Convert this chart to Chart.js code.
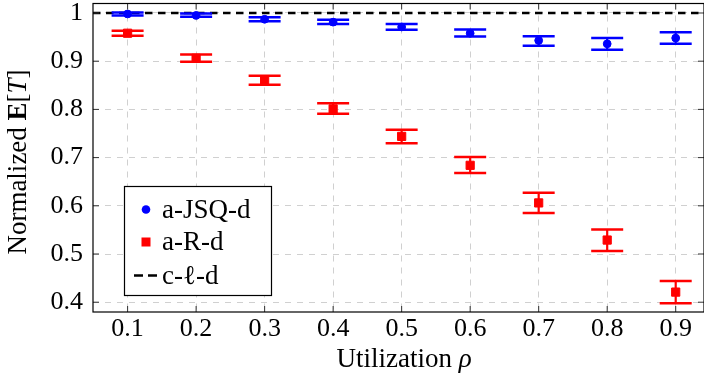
<!DOCTYPE html>
<html>
<head>
<meta charset="utf-8">
<script src="https://cdn.jsdelivr.net/npm/chart.js@4.4.1/dist/chart.umd.min.js"></script>
<style>
  html, body { margin: 0; padding: 0; background: #ffffff; }
  #wrap { width: 704px; height: 386px; }
</style>
</head>
<body>
<div id="wrap"><canvas id="c" width="704" height="386"></canvas></div>
<script>
// ---- data ----
const utilization = [0.1, 0.2, 0.3, 0.4, 0.5, 0.6, 0.7, 0.8, 0.9];

const jsqMean = [0.998, 0.995, 0.987, 0.981, 0.971, 0.958, 0.943, 0.936, 0.948];
const jsqLow  = [0.995, 0.992, 0.983, 0.977, 0.965, 0.951, 0.932, 0.924, 0.936];
const jsqHigh = [1.001, 0.999, 0.991, 0.986, 0.977, 0.966, 0.952, 0.948, 0.960];

const rdMean = [0.958, 0.906, 0.861, 0.801, 0.744, 0.684, 0.606, 0.529, 0.421];
const rdLow  = [0.953, 0.899, 0.851, 0.791, 0.730, 0.668, 0.585, 0.506, 0.398];
const rdHigh = [0.963, 0.914, 0.870, 0.813, 0.758, 0.701, 0.627, 0.551, 0.444];

const clValue = [1, 1];

const xTickValues = [0.1, 0.2, 0.3, 0.4, 0.5, 0.6, 0.7, 0.8, 0.9];
const xTickLabels = ['0.1', '0.2', '0.3', '0.4', '0.5', '0.6', '0.7', '0.8', '0.9'];
const yTickValues = [0.4, 0.5, 0.6, 0.7, 0.8, 0.9, 1.0];
const yTickLabels = ['0.4', '0.5', '0.6', '0.7', '0.8', '0.9', '1'];

const seriesNames = ['a-JSQ-d', 'a-R-d', 'c-\u2113-d'];

// ---- axis limits ----
const X_MIN = 0.0495, X_MAX = 0.9413;
const Y_MIN = 0.3797, Y_MAX = 1.0197;

const FONT = '"Liberation Serif", "Times New Roman", serif';
const FS = 26;      // tick labels
const FT = 27;      // titles and legend
const BLUE = '#0000ff', RED = '#ff0000';

function whiskers(xs, lo, hi) {
  const out = [];
  xs.forEach((x, i) => {
    out.push({ x: x, y: lo[i] });
    out.push({ x: x, y: hi[i] });
    out.push({ x: x, y: null });
  });
  return out;
}
function caps(xs, lo, hi) {
  const out = [];
  xs.forEach((x, i) => { out.push({ x: x, y: lo[i] }); out.push({ x: x, y: hi[i] }); });
  return out;
}
function pts(xs, ys) { return xs.map((x, i) => ({ x: x, y: ys[i] })); }

const frameAndText = {
  id: 'frameAndText',
  afterDraw(chart) {
    const ctx = chart.ctx;
    const a = chart.chartArea;
    const xs = chart.scales.x, ys = chart.scales.y;
    ctx.save();
    // inner tick marks on all four sides
    ctx.strokeStyle = '#333333';
    ctx.lineWidth = 1;
    const TL = 6;
    ctx.beginPath();
    xTickValues.forEach(v => {
      const px = xs.getPixelForValue(v);
      ctx.moveTo(px, a.bottom); ctx.lineTo(px, a.bottom - TL);
      ctx.moveTo(px, a.top); ctx.lineTo(px, a.top + TL);
    });
    yTickValues.forEach(v => {
      const py = ys.getPixelForValue(v);
      ctx.moveTo(a.left, py); ctx.lineTo(a.left + TL, py);
      ctx.moveTo(a.right, py); ctx.lineTo(a.right - TL, py);
    });
    ctx.stroke();
    // frame
    ctx.strokeStyle = '#000000';
    ctx.lineWidth = 1.2;
    ctx.strokeRect(a.left, a.top, a.right - a.left, a.bottom - a.top);

    // x title: "Utilization ρ"
    ctx.fillStyle = '#000';
    ctx.textBaseline = 'alphabetic';
    ctx.textAlign = 'left';
    const partsX = [
      { t: 'Utilization ', f: `${FT}px ${FONT}` },
      { t: '\u03C1', f: `italic ${FT}px ${FONT}` }
    ];
    let w = 0;
    partsX.forEach(p => { ctx.font = p.f; p.w = ctx.measureText(p.t).width; w += p.w; });
    let cx = 404 - w / 2;
    partsX.forEach(p => { ctx.font = p.f; ctx.fillText(p.t, cx, 367); cx += p.w; });

    // y title: "Normalized E[T]"
    const partsY = [
      { t: 'Normalized ', f: `${FT}px ${FONT}` },
      { t: 'E', f: `bold ${FT}px ${FONT}` },
      { t: '[', f: `${FT}px ${FONT}` },
      { t: 'T', f: `italic ${FT}px ${FONT}` },
      { t: ']', f: `${FT}px ${FONT}` }
    ];
    w = 0;
    partsY.forEach(p => { ctx.font = p.f; p.w = ctx.measureText(p.t).width; w += p.w; });
    ctx.save();
    ctx.translate(26, 162);
    ctx.rotate(-Math.PI / 2);
    cx = -w / 2;
    partsY.forEach(p => { ctx.font = p.f; ctx.fillText(p.t, cx, 0); cx += p.w; });
    ctx.restore();

    // legend box
    const L = 124.5, T = 186.5, W = 147, H = 109;
    ctx.fillStyle = '#ffffff';
    ctx.fillRect(L, T, W, H);
    ctx.strokeStyle = '#000';
    ctx.lineWidth = 1.2;
    ctx.strokeRect(L, T, W, H);
    const rows = [209.5, 242, 275.5];
    ctx.fillStyle = BLUE;
    ctx.beginPath(); ctx.arc(146, rows[0], 4.3, 0, Math.PI * 2); ctx.fill();
    ctx.fillStyle = RED;
    ctx.fillRect(141.5, rows[1] - 4.5, 9, 9);
    ctx.strokeStyle = '#000';
    ctx.lineWidth = 2.5;
    ctx.setLineDash([9, 5]);
    ctx.beginPath(); ctx.moveTo(134, rows[2]); ctx.lineTo(158, rows[2]); ctx.stroke();
    ctx.setLineDash([]);
    ctx.fillStyle = '#000';
    ctx.font = `${FT}px ${FONT}`;
    ctx.textBaseline = 'middle';
    seriesNames.forEach((n, i) => ctx.fillText(n, 162, rows[i] + 1));
    ctx.restore();
  }
};

const gridOpts = { color: '#d0d0d0', lineWidth: 1, drawTicks: false };

new Chart(document.getElementById('c'), {
  type: 'scatter',
  data: {
    datasets: [
      { label: seriesNames[0], data: pts(utilization, jsqMean), pointStyle: 'circle', pointRadius: 3.9,
        pointBorderWidth: 1, backgroundColor: BLUE, borderColor: BLUE, order: 0 },
      { label: seriesNames[1], data: pts(utilization, rdMean), pointStyle: 'rect', pointRadius: 5.8,
        pointBorderWidth: 1, backgroundColor: RED, borderColor: RED, order: 0 },
      { label: 'jsq caps', data: caps(utilization, jsqLow, jsqHigh), pointStyle: 'line', pointRadius: 16,
        pointBorderWidth: 2.5, borderColor: BLUE, backgroundColor: BLUE, order: 1 },
      { label: 'rd caps', data: caps(utilization, rdLow, rdHigh), pointStyle: 'line', pointRadius: 16,
        pointBorderWidth: 2.5, borderColor: RED, backgroundColor: RED, order: 1 },
      { label: 'jsq whiskers', data: whiskers(utilization, jsqLow, jsqHigh), showLine: true, spanGaps: false,
        borderColor: BLUE, borderWidth: 2.2, pointRadius: 0, order: 2 },
      { label: 'rd whiskers', data: whiskers(utilization, rdLow, rdHigh), showLine: true, spanGaps: false,
        borderColor: RED, borderWidth: 2.2, pointRadius: 0, order: 2 },
      { label: seriesNames[2], data: [{ x: X_MIN, y: clValue[0] }, { x: X_MAX, y: clValue[1] }], showLine: true,
        borderColor: '#000', borderWidth: 2.6, borderDash: [7.5, 5.5], pointRadius: 0, order: 3 }
    ]
  },
  options: {
    responsive: false,
    devicePixelRatio: 1,
    animation: false,
    events: [],
    layout: { autoPadding: false, padding: { top: 3.5, right: -2, bottom: 0, left: 0 } },
    plugins: { legend: { display: false }, tooltip: { enabled: false } },
    scales: {
      x: {
        type: 'linear', min: X_MIN, max: X_MAX,
        afterBuildTicks: s => { s.ticks = xTickValues.map(v => ({ value: v })); },
        afterFit: s => { s.height = 74; s.paddingLeft = 0; s.paddingRight = 0; s.paddingTop = 0; s.paddingBottom = 0; },
        ticks: {
          autoSkip: false, maxRotation: 0, color: '#000', padding: 2,
          font: { family: FONT, size: FS },
          callback: v => xTickLabels[xTickValues.findIndex(t => Math.abs(t - v) < 1e-9)]
        },
        grid: gridOpts,
        border: { display: false, dash: [6, 6] }
      },
      y: {
        type: 'linear', min: Y_MIN, max: Y_MAX,
        afterBuildTicks: s => { s.ticks = yTickValues.map(v => ({ value: v })); },
        afterFit: s => { s.width = 93; s.paddingLeft = 0; s.paddingRight = 0; s.paddingTop = 0; s.paddingBottom = 0; },
        ticks: {
          autoSkip: false, color: '#000', padding: 10,
          font: { family: FONT, size: FS },
          callback: v => yTickLabels[yTickValues.findIndex(t => Math.abs(t - v) < 1e-9)]
        },
        grid: gridOpts,
        border: { display: false, dash: [6, 6] }
      }
    }
  },
  plugins: [frameAndText]
});
</script>
</body>
</html>
